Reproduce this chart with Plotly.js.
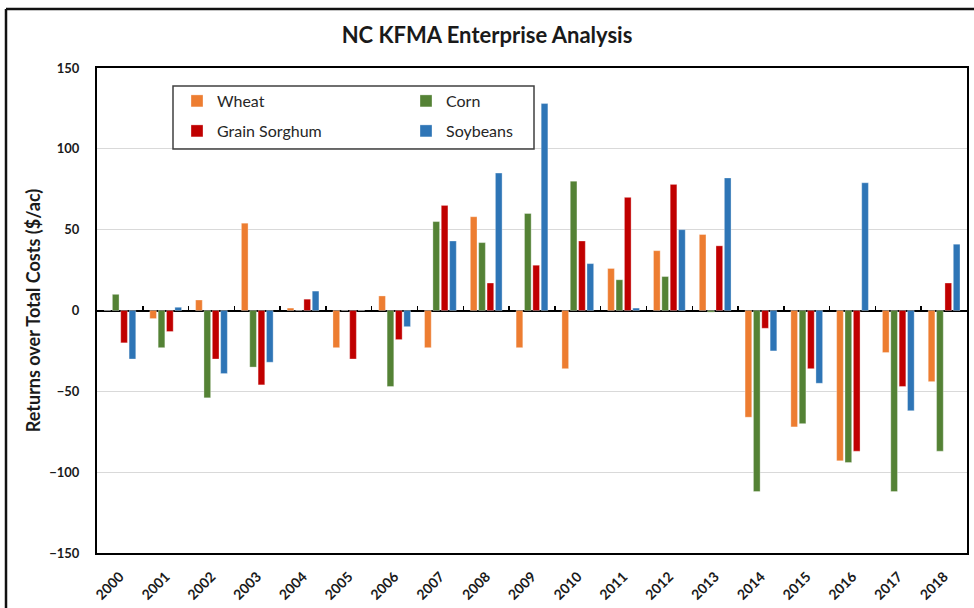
<!DOCTYPE html>
<html>
<head>
<meta charset="utf-8">
<script src="https://cdn.plot.ly/plotly-3.0.1.min.js"></script>
<style>html,body{margin:0;padding:0;background:#fff;}#chart{width:974px;height:608px;}</style>
</head>
<body>
<div id="chart"></div>
<script>
const years = ["2000","2001","2002","2003","2004","2005","2006","2007","2008","2009","2010","2011","2012","2013","2014","2015","2016","2017","2018"];
const wheat    = [0, -5, 6.5, 54, 1.5, -23, 9, -23, 58, -23, -36, 26, 37, 47, -66, -72, -93, -26, -44];
const corn     = [10, -23, -54, -35, 0, 0, -47, 55, 42, 60, 80, 19, 21, -1, -112, -70, -94, -112, -87];
const sorghum  = [-20, -13, -30, -46, 7, -30, -18, 65, 17, 28, 43, 70, 78, 40, -11, -36, -87, -47, 17];
const soybeans = [-30, 2, -39, -32, 12, 0, -10, 43, 85, 128, 29, 1.5, 50, 82, -25, -45, 79, -62, 41];
const seriesNames = ["Wheat", "Corn", "Grain Sorghum", "Soybeans"];
const seriesColors = ["#ED7D31", "#548235", "#C00000", "#2E75B6"];

const FONT = "Lato, 'Open Sans', sans-serif";
const data = [wheat, corn, sorghum, soybeans].map((vals, i) => ({
  type: "bar",
  name: seriesNames[i],
  x: years,
  y: vals,
  marker: {color: seriesColors[i], line: {color: "rgba(255,255,255,0.55)", width: 0.6}},
  legend: (i === 0 || i === 1) ? "legend" : "legend2",
  hoverinfo: "x+y+name"
}));
// helper (invisible) trace so the zero-line tick axis has categories
data.push({type: "scatter", mode: "lines", x: years, y: years.map(() => 0), xaxis: "x2", yaxis: "y",
  line: {width: 0}, opacity: 0, showlegend: false, hoverinfo: "skip"});

// pixel -> paper helpers (plot area 97..967 x 68..553)
const px = v => (v - 97) / 870;
const py = v => (553 - v) / 485;

const layout = {
  width: 974, height: 608,
  margin: {l: 97, r: 7, t: 68, b: 55},
  paper_bgcolor: "#ffffff", plot_bgcolor: "#ffffff",
  font: {family: FONT, color: "#262626"},
  title: {text: "NC KFMA Enterprise Analysis", x: 0.5, xref: "container", xanchor: "center",
    y: 1 - 35/608, yref: "container", yanchor: "middle",
    font: {family: FONT, size: 22, weight: "bold", color: "#1a1a1a"}},
  barmode: "group", bargap: 0.27, bargroupgap: 0.2,
  xaxis: {type: "category", showline: true, mirror: true, linecolor: "#000", linewidth: 2,
    ticks: "", tickangle: -45, tickfont: {family: FONT, size: 14, weight: "bold", color: "#1a1a1a"},
    showgrid: false, zeroline: false, ticklabelstandoff: 8},
  xaxis2: {type: "category", overlaying: "x", anchor: "free", position: 0.5, side: "bottom",
    range: [-0.5, 18.5],
    ticks: "inside", ticklen: 5, tickwidth: 1.5, tickcolor: "#000", tickson: "boundaries",
    showticklabels: false, showline: false, showgrid: false, zeroline: false},
  yaxis: {range: [-150, 150], dtick: 50, tick0: 0, showgrid: true, gridcolor: "#d9d9d9", gridwidth: 1,
    zeroline: true, zerolinecolor: "#000", zerolinewidth: 2,
    showline: true, mirror: true, linecolor: "#000", linewidth: 2, ticks: "",
    ticklabelstandoff: 13,
    tickfont: {family: FONT, size: 13, weight: "bold", color: "#1a1a1a"},
    title: {text: "Returns over Total Costs ($/ac)", standoff: 4,
      font: {family: FONT, size: 18, weight: "bold", color: "#1a1a1a"}}},
  legend: {orientation: "h", x: px(177), xanchor: "left", y: py(101), yanchor: "middle",
    entrywidth: 184, entrywidthmode: "pixels", bgcolor: "rgba(0,0,0,0)", borderwidth: 0,
    font: {family: FONT, size: 16, color: "#262626"}, traceorder: "normal"},
  legend2: {orientation: "h", x: px(177), xanchor: "left", y: py(131), yanchor: "middle",
    entrywidth: 184, entrywidthmode: "pixels", bgcolor: "rgba(0,0,0,0)", borderwidth: 0,
    font: {family: FONT, size: 16, color: "#262626"}, traceorder: "normal"},
  shapes: [
    {type: "rect", xref: "paper", yref: "paper", x0: px(173), x1: px(534), y0: py(86), y1: py(149),
      line: {color: "#404040", width: 1.5}, fillcolor: "rgba(0,0,0,0)"},
    {type: "line", xref: "paper", yref: "paper", x0: px(6), x1: px(980), y0: py(9), y1: py(9),
      line: {color: "#111", width: 2.5}},
    {type: "line", xref: "paper", yref: "paper", x0: px(6), x1: px(6), y0: py(9), y1: py(620),
      line: {color: "#111", width: 2.5}}
  ],
  showlegend: true
};

Plotly.newPlot("chart", data, layout, {displayModeBar: false, staticPlot: true});
</script>
</body>
</html>
